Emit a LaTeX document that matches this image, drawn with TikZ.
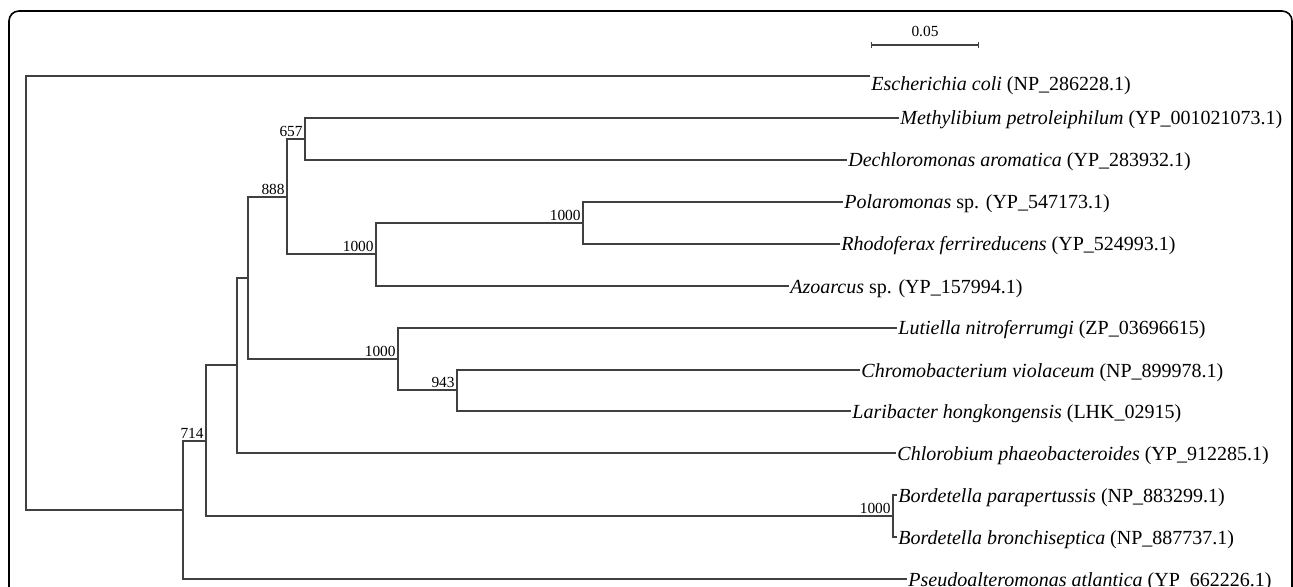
\documentclass[tikz,border=0pt]{standalone}
\usepackage{fontspec}
\setmainfont{Liberation Serif}
\usetikzlibrary{arrows.meta}

\begin{document}
\begin{tikzpicture}[x=0.5pt,y=-0.5pt,
	branch/.style={draw=black!75, line width=0.6pt},
	leaf/.style={anchor=west, inner xsep=0.5pt, inner ysep=0pt, text height=7pt, text depth=0pt, font=\fontsize{10}{12}\selectfont},
	boot/.style={anchor=south east, inner sep=1pt, font=\fontsize{7.7}{9}\selectfont}]
	\clip (0,0) rectangle (1293,587);
	\draw[line width=0.8pt, rounded corners=5pt] (9,11) rectangle (1292,640);

	% inner nodes of the tree
	\coordinate (R) at (26,292);
	\coordinate (A) at (183,510);
	\coordinate (B) at (206,441);
	\coordinate (C) at (237,365);
	\coordinate (D) at (248,278);
	\coordinate (E) at (287,197);
	\coordinate (F) at (305,139);
	\coordinate (G) at (376,254);
	\coordinate (H) at (583,223);
	\coordinate (I) at (398,359);
	\coordinate (J) at (457,390);
	\coordinate (K) at (893,516);

	% leaves
	\node[leaf, anchor=north west] (ecoli) at (870,76) {\textit{Escherichia coli} (NP\_286228.1)};
	\node[leaf] (methyl) at (899,118) {\textit{Methylibium petroleiphilum} (YP\_001021073.1)};
	\node[leaf] (dechlor) at (847,160) {\textit{Dechloromonas aromatica} (YP\_283932.1)};
	\node[leaf] (polar) at (843,202) {\textit{Polaromonas} sp. (YP\_547173.1)};
	\node[leaf] (rhodo) at (840,244) {\textit{Rhodoferax ferrireducens} (YP\_524993.1)};
	\node[leaf] (azo) at (789,286) {\textit{Azoarcus} sp. (YP\_157994.1)};
	\node[leaf] (lutiel) at (897,328) {\textit{Lutiella nitroferrumgi} (ZP\_03696615)};
	\node[leaf] (chromo) at (860,370) {\textit{Chromobacterium violaceum} (NP\_899978.1)};
	\node[leaf] (larib) at (851,411) {\textit{Laribacter hongkongensis} (LHK\_02915)};
	\node[leaf] (chloro) at (896,453) {\textit{Chlorobium phaeobacteroides} (YP\_912285.1)};
	\node[leaf] (bpara) at (897,495) {\textit{Bordetella parapertussis} (NP\_883299.1)};
	\node[leaf] (bbron) at (897,537) {\textit{Bordetella bronchiseptica} (NP\_887737.1)};
	\node[leaf] (pseudo) at (907,579) {\textit{Pseudoalteromonas atlantica} (YP\_662226.1)};

	% bootstrap values
	\node[boot] (bB) at (B) {714};
	\node[boot] (bE) at (E) {888};
	\node[boot] (bF) at (F) {657};
	\node[boot] (bG) at (G) {1000};
	\node[boot] (bH) at (H) {1000};
	\node[boot] (bI) at (I) {1000};
	\node[boot] (bJ) at (J) {943};
	\node[boot] (bK) at (K) {1000};

	\draw[branch] (R) |- (ecoli.north west);
	\draw[branch] (R) |- (A);
	\draw[branch] (A) |- (B);
	\draw[branch] (A) |- (pseudo);
	\draw[branch] (B) |- (C);
	\draw[branch] (B) |- (K);
	\draw[branch] (C) |- (D);
	\draw[branch] (C) |- (chloro);
	\draw[branch] (D) |- (E);
	\draw[branch] (D) |- (I);
	\draw[branch] (E) |- (F);
	\draw[branch] (E) |- (G);
	\draw[branch] (F) |- (methyl);
	\draw[branch] (F) |- (dechlor);
	\draw[branch] (G) |- (H);
	\draw[branch] (G) |- (azo);
	\draw[branch] (H) |- (polar);
	\draw[branch] (H) |- (rhodo);
	\draw[branch] (I) |- (lutiel);
	\draw[branch] (I) |- (J);
	\draw[branch] (J) |- (chromo);
	\draw[branch] (J) |- (larib);
	\draw[branch] (K) |- (bpara);
	\draw[branch] (K) |- (bbron);

	% scale bar
	\coordinate (sL) at (871,45);
	\coordinate (sR) at (979,45);
	\draw[branch, {Bar[width=3pt]}-{Bar[width=3pt]}] (sL) -- node[midway, above=3pt, inner sep=1pt, font=\fontsize{7.7}{9}\selectfont] (scale) {0.05} (sR);
\end{tikzpicture}
\end{document}
